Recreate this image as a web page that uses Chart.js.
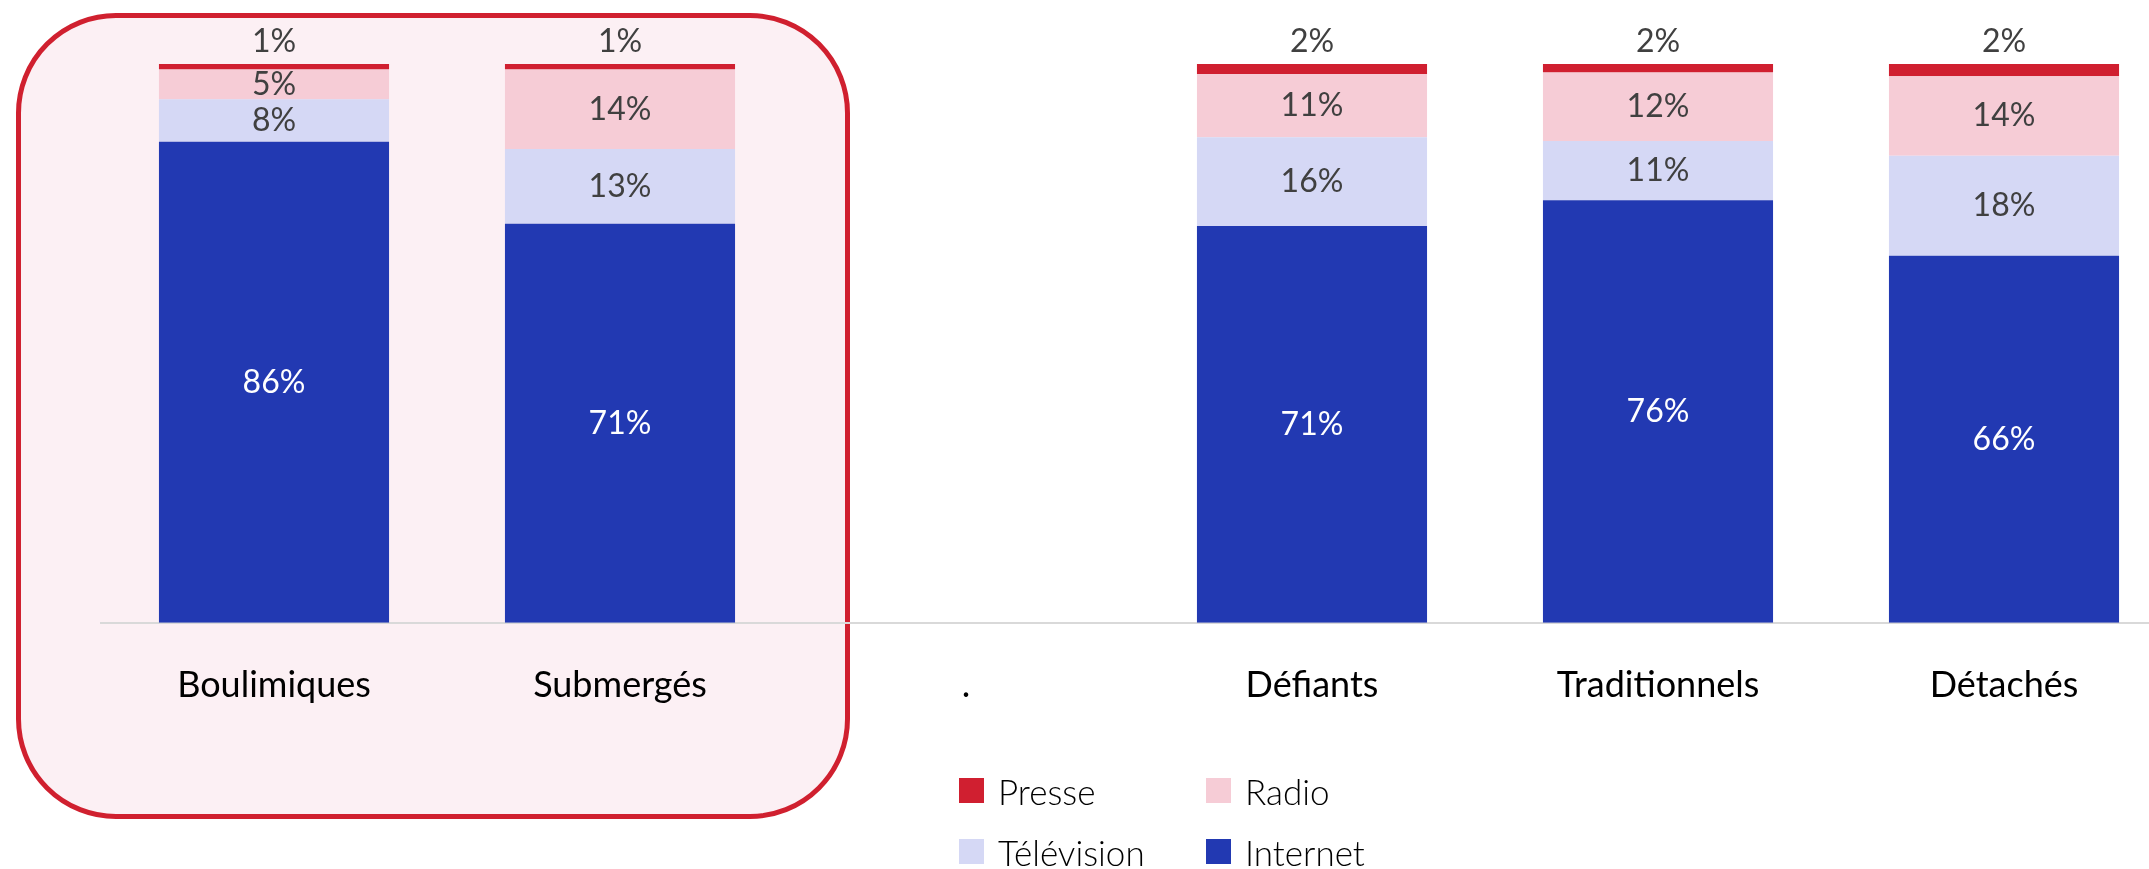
<!DOCTYPE html>
<html>
<head>
<meta charset="utf-8">
<script src="https://cdn.jsdelivr.net/npm/chart.js@4.4.0/dist/chart.umd.min.js"></script>
<style>
  html, body { margin: 0; padding: 0; background: #fff; overflow: hidden; }
  body { width: 2149px; height: 869px; position: relative; }
  #highlight {
    position: absolute; left: 16px; top: 13px; width: 824px; height: 796px;
    border: 5px solid #d0202f; border-radius: 100px; background: #fcf0f4;
  }
  #wrap { position: absolute; left: 0; top: 0; width: 2180px; height: 869px; }
  #legend {
    position: absolute; left: 959px; top: 772px;
    display: grid; grid-template-columns: 247px 200px; row-gap: 24px;
    font-family: Lato, sans-serif; font-weight: 300; font-size: 35px; color: #000;
  }
  .item { display: flex; align-items: center; height: 37px; }
  .box { width: 25px; height: 25px; margin-right: 14px; flex: none; }
</style>
</head>
<body>
<div id="highlight"></div>
<div id="wrap"><canvas id="chart" width="2180" height="869"></canvas></div>
<div id="legend"></div>
<script>
const categories = ['Boulimiques', 'Submergés', '.', 'Défiants', 'Traditionnels', 'Détachés'];
const internet   = [86.1, 71.4, null, 71.0, 75.6, 65.7];
const television = [7.6, 13.4, null, 15.9, 10.6, 17.9];
const radio      = [5.3, 14.2, null, 11.3, 12.3, 14.2];
const presse     = [1.0, 1.0, null, 1.8, 1.5, 2.2];

const colors = {
	Internet: '#2239b2',
	'Télévision': '#d5d8f5',
	Radio: '#f6ccd6',
	Presse: '#d01f30'
};

// Stacked from bottom to top
const series = [
	{ label: 'Internet', data: internet },
	{ label: 'Télévision', data: television },
	{ label: 'Radio', data: radio },
	{ label: 'Presse', data: presse }
];

const datasets = series.map(s => ({
	label: s.label,
	data: s.data,
	backgroundColor: colors[s.label],
	borderWidth: 0,
	barPercentage: 0.665,
	categoryPercentage: 1
}));

// Draw the percentage inside each segment (Presse sits above the bar)
const segmentLabels = {
	id: 'segmentLabels',
	afterDatasetsDraw(chart) {
		const ctx = chart.ctx;
		ctx.save();
		ctx.font = '32px Lato, sans-serif';
		ctx.textAlign = 'center';
		ctx.textBaseline = 'middle';
		chart.data.datasets.forEach((ds, di) => {
			const meta = chart.getDatasetMeta(di);
			meta.data.forEach((bar, i) => {
				const v = ds.data[i];
				if (v == null) return;
				const txt = Math.round(v) + '%';
				let y;
				if (ds.label === 'Presse') {
					y = bar.y - 22;
				} else {
					y = (bar.y + bar.base) / 2;
				}
				ctx.fillStyle = ds.label === 'Internet' ? '#ffffff' : '#404040';
				ctx.fillText(txt, bar.x, y);
			});
		});
		ctx.restore();
	}
};

const ctx = document.getElementById('chart').getContext('2d');
const chart = new Chart(ctx, {
	type: 'bar',
	data: { labels: categories, datasets },
	options: {
		responsive: false,
		animation: false,
		layout: { padding: { left: 101, right: 3, top: 64, bottom: 129 } },
		plugins: {
			legend: { display: false },
			tooltip: { enabled: false }
		},
		scales: {
			x: {
				stacked: true,
				grid: { display: false },
				border: { display: true, color: '#d9d9d9', width: 2 },
				ticks: {
					color: '#000',
					font: { family: 'Lato, sans-serif', size: 36 },
					padding: 33,
					maxRotation: 0
				}
			},
			y: {
				stacked: true,
				display: false,
				min: 0,
				max: 100
			}
		}
	},
	plugins: [segmentLabels]
});

// Legend in two columns, top segment first
const legendEl = document.getElementById('legend');
['Presse', 'Radio', 'Télévision', 'Internet'].forEach(name => {
	const item = document.createElement('div');
	item.className = 'item';
	const box = document.createElement('span');
	box.className = 'box';
	box.style.background = colors[name];
	const txt = document.createElement('span');
	txt.textContent = name;
	item.appendChild(box);
	item.appendChild(txt);
	legendEl.appendChild(item);
});
</script>
</body>
</html>
